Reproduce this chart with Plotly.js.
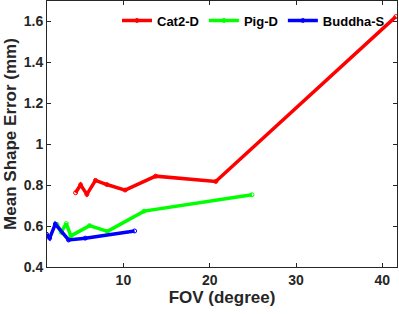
<!DOCTYPE html>
<html>
<head>
<meta charset="utf-8">
<script src="https://cdn.plot.ly/plotly-3.0.1.min.js"></script>
<style>html,body{margin:0;padding:0;background:#fff;}#chart{width:399px;height:314px;}</style>
</head>
<body>
<div id="chart"></div>
<script>
const seriesNames = ["Cat2-D", "Pig-D", "Buddha-S"];
const cat2X = [4.46, 5.04, 5.77, 6.77, 8.08, 10.2, 13.74, 20.7, 41.57];
const cat2Y = [0.763, 0.802, 0.755, 0.823, 0.803, 0.776, 0.844, 0.818, 1.624];
const pigX = [2.3, 2.8, 3.38, 3.92, 6.08, 8.16, 12.4, 24.9];
const pigY = [0.608, 0.571, 0.612, 0.552, 0.602, 0.574, 0.673, 0.753];
const buddhaX = [1.1, 1.46, 2.11, 3.65, 5.58, 11.3];
const buddhaY = [0.56, 0.541, 0.61, 0.532, 0.541, 0.576];
const colors = ["#ff0000", "#00ff00", "#0000ff"];

const xs = [cat2X, pigX, buddhaX];
const ys = [cat2Y, pigY, buddhaY];
const traces = seriesNames.map((n, i) => ({
  x: xs[i], y: ys[i], name: n, type: "scatter", mode: "lines+markers",
  line: {color: colors[i], width: 3.5},
  marker: {color: colors[i], size: 4, symbol: "circle-open"}
}));

const fam = "Liberation Sans, Arial, sans-serif";
const tickFont = {family: fam, size: 14, color: "#262626", weight: "bold"};
const titleFont = {family: fam, size: 17, color: "#262626", weight: "bold"};
const layout = {
  width: 399, height: 314,
  margin: {l: 47, r: 2, t: 1, b: 47},
  paper_bgcolor: "#fff", plot_bgcolor: "#fff",
  showlegend: true,
  legend: {orientation: "h", x: 0.2, xanchor: "left", y: 0.983, yanchor: "top",
    font: {family: fam, size: 13, color: "#000", weight: "bold"},
    bgcolor: "rgba(0,0,0,0)", itemwidth: 30, tracegroupgap: 0},
  xaxis: {range: [1.15, 41.7], tickvals: [10, 20, 30, 40], ticks: "inside", ticklen: 4,
    tickcolor: "#262626", showgrid: false, zeroline: false, showline: true, linecolor: "#262626",
    linewidth: 1, mirror: "ticks", tickfont: tickFont,
    title: {text: "FOV (degree)", standoff: 4, font: titleFont}},
  yaxis: {range: [0.4, 1.7], tickvals: [0.4, 0.6, 0.8, 1, 1.2, 1.4, 1.6],
    ticktext: ["0.4", "0.6", "0.8", "1", "1.2", "1.4", "1.6"], ticks: "inside", ticklen: 4,
    tickcolor: "#262626", showgrid: false, zeroline: false, showline: true, linecolor: "#262626",
    linewidth: 1, mirror: "ticks", tickfont: tickFont,
    title: {text: "Mean Shape Error (mm)", standoff: 2, font: titleFont}}
};
Plotly.newPlot("chart", traces, layout, {displayModeBar: false, staticPlot: true});
</script>
</body>
</html>
